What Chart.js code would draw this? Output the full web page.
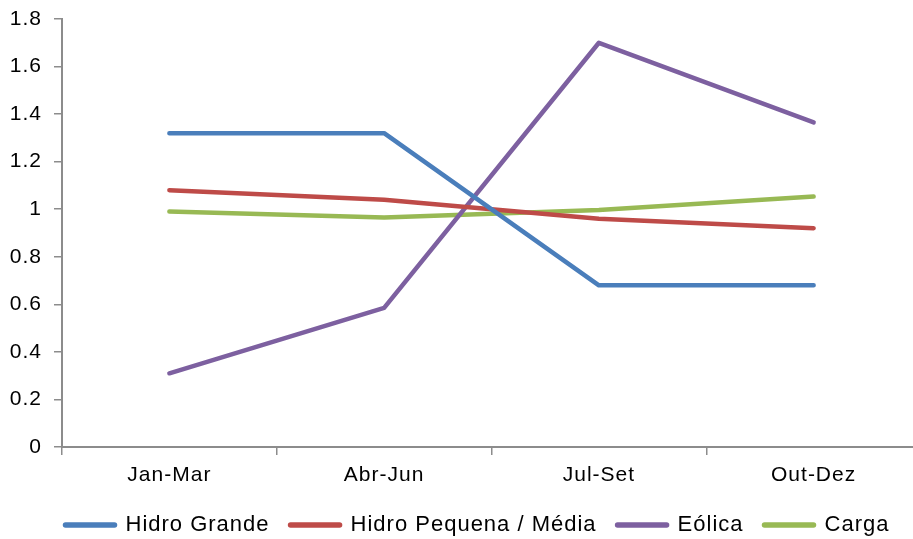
<!DOCTYPE html>
<html>
<head>
<meta charset="utf-8">
<script src="https://cdn.jsdelivr.net/npm/chart.js@4/dist/chart.umd.min.js"></script>
<style>
  html, body { margin: 0; padding: 0; background: #fff; overflow: hidden; width: 913px; height: 539px; }
  #wrap { width: 921px; height: 539px; }
</style>
</head>
<body>
<div id="wrap"><canvas id="c" width="921" height="539"></canvas></div>
<script>
const categories = ['Jan-Mar', 'Abr-Jun', 'Jul-Set', 'Out-Dez'];
const hidroGrande = [1.32, 1.32, 0.68, 0.68];
const hidroPequena = [1.08, 1.04, 0.96, 0.92];
const eolica = [0.31, 0.585, 1.70, 1.365];
const carga = [0.99, 0.965, 0.997, 1.053];
const yTickLabels = ['0', '0.2', '0.4', '0.6', '0.8', '1', '1.2', '1.4', '1.6', '1.8'];

const FONT = "'Liberation Sans', Arial, sans-serif";
const axisColor = '#8c8c8c';

function ds(label, data, color) {
  return {
    label, data,
    borderColor: color, backgroundColor: color,
    borderWidth: 4.5, pointRadius: 0, pointHoverRadius: 0,
    tension: 0, borderCapStyle: 'round', borderJoinStyle: 'round',
    pointStyle: 'line'
  };
}

const spacingPlugin = {
  id: 'spacing',
  beforeUpdate(chart) { chart.ctx.letterSpacing = '1px'; },
  beforeDraw(chart) { chart.ctx.letterSpacing = '1px'; },
  afterLayout(chart) {
    const lg = chart.legend;
    if (!lg) return;
    const h = lg.height;
    lg.left = 44.5; lg.right = chart.width;
    lg.top = 493; lg.bottom = 493 + h;
  }
};

new Chart(document.getElementById('c'), {
  type: 'line',
  plugins: [spacingPlugin],
  data: {
    labels: categories,
    datasets: [
      ds('Hidro Grande', hidroGrande, '#4A7EBB'),
      ds('Hidro Pequena / Média', hidroPequena, '#BE4B48'),
      ds('Eólica', eolica, '#7D60A0'),
      ds('Carga', carga, '#98B954')
    ]
  },
  options: {
    responsive: false,
    animation: false,
    devicePixelRatio: 1,
    layout: { padding: { left: 0, right: 0, top: 19, bottom: 4 } },
    plugins: {
      tooltip: { enabled: false },
      legend: {
        position: 'bottom',
        align: 'start',
        maxHeight: 44,
        labels: {
          usePointStyle: true,
          pointStyleWidth: 49,
          padding: 21,
          color: '#000',
          font: { family: FONT, size: 22 },
          generateLabels(chart) {
            const items = Chart.defaults.plugins.legend.labels.generateLabels(chart);
            items.forEach(it => { it.lineWidth = 5.5; it.lineCap = 'round'; it.pointStyle = 'line'; });
            return items;
          }
        }
      }
    },
    scales: {
      x: {
        type: 'category',
        offset: true,
        grid: { offset: true, drawOnChartArea: false, drawTicks: true, tickLength: 8, color: axisColor, lineWidth: 1.5 },
        border: { display: true, color: axisColor, width: 2 },
        ticks: { color: '#000', font: { family: FONT, size: 21 }, padding: 7.5, maxRotation: 0, autoSkip: false },
        afterFit(scale) { scale.height = 44; }
      },
      y: {
        min: 0, max: 1.8,
        grid: { drawOnChartArea: false, drawTicks: true, tickLength: 8, color: axisColor, lineWidth: 1.5 },
        border: { display: true, color: axisColor, width: 2 },
        ticks: {
          stepSize: 0.2, color: '#000', padding: 12,
          font: { family: FONT, size: 21 },
          callback: (v, i) => yTickLabels[i]
        },
        afterFit(scale) { scale.width = 62; scale.paddingTop = 10; scale.paddingBottom = 10; }
      }
    }
  }
});
</script>
</body>
</html>
